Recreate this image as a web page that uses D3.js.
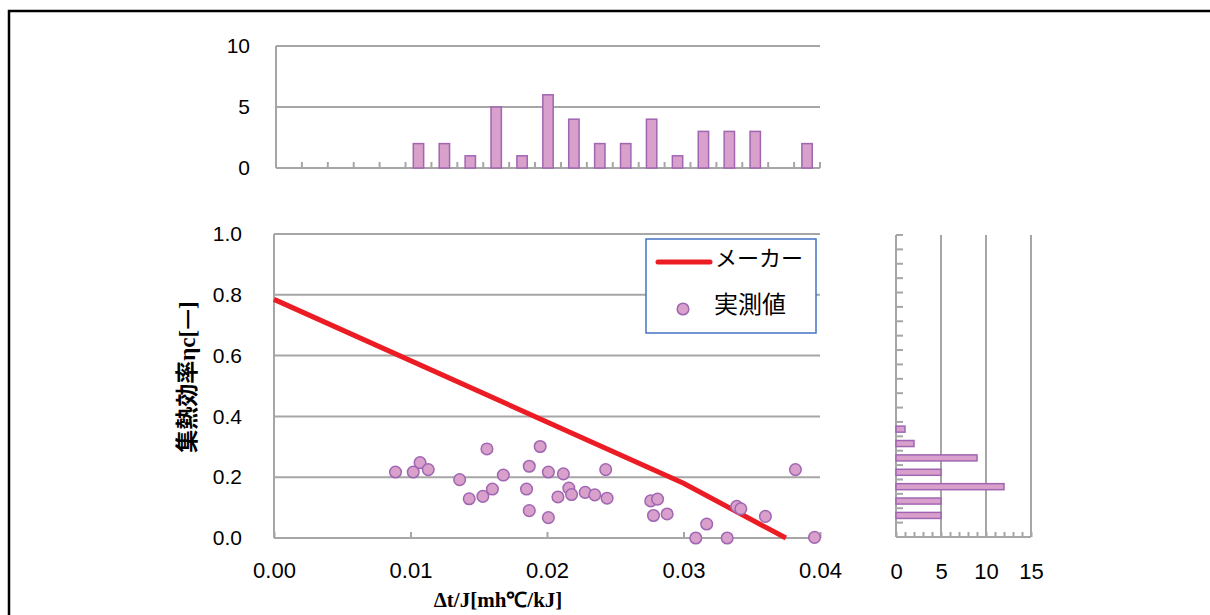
<!DOCTYPE html>
<html><head><meta charset="utf-8">
<script src="https://cdn.jsdelivr.net/npm/d3@7"></script>
<style>
html,body{margin:0;padding:0;background:#fff;overflow:hidden;}
svg{display:block;}
</style></head>
<body>
<svg id="chart" width="1210" height="615"></svg>
<script>
// ---------------- data ----------------
const measuredX = [0.0089,0.0102,0.0107,0.0113,0.0136,0.0143,0.0153,0.0156,0.0160,0.0168,
  0.0185,0.0187,0.0187,0.0195,0.0201,0.0201,0.0208,0.0212,0.0216,0.0218,
  0.0228,0.0235,0.0243,0.0244,0.0276,0.0281,0.0278,0.0288,0.0309,0.0317,
  0.0332,0.0339,0.0342,0.0360,0.0382,0.0396];
const measuredY = [0.217,0.217,0.248,0.225,0.192,0.129,0.137,0.293,0.161,0.207,
  0.161,0.236,0.090,0.301,0.217,0.067,0.135,0.211,0.164,0.143,
  0.150,0.142,0.225,0.131,0.122,0.128,0.074,0.079,0.000,0.046,
  0.000,0.104,0.096,0.071,0.225,0.002];
const makerX = [0, 0.030, 0.0375];
const makerY = [0.785, 0.18, 0];
// histogram of Δt/J (bins 0.000 .. 0.040 step 0.002)
const topBins = d3.range(21).map(i => (i * 0.002).toFixed(3));
const topCounts = [0,0,0,0,0,2,2,1,5,1,6,4,2,2,4,1,3,3,3,0,2];
// histogram of ηc (bins 0.00 .. 1.00 step 0.05, listed bottom to top)
const rightBins = d3.range(21).map(i => (i * 0.05).toFixed(2));
const rightCounts = [0,5,5,12,5,9,2,1,0,0,0,0,0,0,0,0,0,0,0,0,0];
const mainXTicks = [0, 0.01, 0.02, 0.03, 0.04];
const mainYTicks = [0, 0.2, 0.4, 0.6, 0.8, 1.0];
const topYTicks = [0, 5, 10];
const rightXTicks = [0, 5, 10, 15];
const legendLabels = ["メーカー", "実測値"];

// ---------------- styles ----------------
const GRID = "#A6A6A6", AXIS = "#A6A6A6";
const FILL = "#D8A0CB", STROKE = "#A066B2", RED = "#EC1C24";
const SANS = "'Liberation Sans', Arial, sans-serif";
const SERIF = "'Liberation Serif', 'Times New Roman', serif";
const CJK = "'Noto Sans CJK JP', sans-serif";

const svg = d3.select("#chart");
// outer frame
svg.append("rect").attr("x", 9).attr("y", 11).attr("width", 1400).attr("height", 800)
  .attr("fill", "none").attr("stroke", "#000").attr("stroke-width", 2.5);

// ---------------- main scatter ----------------
const x = d3.scaleLinear().domain([0, 0.04]).range([274, 820]);
const y = d3.scaleLinear().domain([0, 1]).range([538, 234]);

const g = svg.append("g");
g.selectAll("line.grid").data(mainYTicks.filter(d => d > 0)).join("line")
  .attr("x1", x(0)).attr("x2", x(0.04)).attr("y1", d => y(d)).attr("y2", d => y(d))
  .attr("stroke", GRID).attr("stroke-width", 2);

const xAxis = g.append("g").attr("transform", `translate(0,${y(0)})`)
  .call(d3.axisBottom(x).tickValues(mainXTicks).tickFormat(d3.format(".2f")).tickSize(-6).tickPadding(24));
xAxis.select(".domain").attr("stroke", AXIS).attr("stroke-width", 2).attr("d", `M${x(0)},0H${x(0.04)}`);
xAxis.selectAll(".tick line").attr("stroke", AXIS).attr("stroke-width", 2);
xAxis.selectAll("text").style("font-size", "22px").style("font-family", SANS);

const yAxis = g.append("g").attr("transform", `translate(${x(0)},0)`)
  .call(d3.axisLeft(y).tickValues(mainYTicks).tickFormat(d3.format(".1f")).tickSize(0).tickPadding(32));
yAxis.select(".domain").attr("stroke", AXIS).attr("stroke-width", 2).attr("d", `M0,${y(0)}V${y(1)}`);
yAxis.selectAll("text").style("font-size", "21px").style("font-family", SANS);

// maker line
const makerPts = makerX.map((d, i) => [d, makerY[i]]);
g.append("path").datum(makerPts)
  .attr("d", d3.line().x(d => x(d[0])).y(d => y(d[1])))
  .attr("fill", "none").attr("stroke", RED).attr("stroke-width", 5);

// measured points
const pts = measuredX.map((d, i) => [d, measuredY[i]]);
g.selectAll("circle.pt").data(pts).join("circle")
  .attr("cx", d => x(d[0])).attr("cy", d => y(d[1])).attr("r", 5.8)
  .attr("fill", FILL).attr("stroke", STROKE).attr("stroke-width", 1.5);

// axis titles
svg.append("text").attr("x", 498).attr("y", 607).attr("text-anchor", "middle")
  .style("font-family", SERIF).style("font-weight", "bold").style("font-size", "21px")
  .text("Δt/J[mh℃/kJ]");

const yt = svg.append("text").attr("transform", "translate(195,377) rotate(-90)")
  .attr("text-anchor", "middle").style("font-weight", "bold").style("font-size", "23px");
yt.append("tspan").style("font-family", CJK).text("集熱効率");
yt.append("tspan").style("font-family", SERIF).text("ηc[");
yt.append("tspan").style("font-family", CJK).text("—");
yt.append("tspan").style("font-family", SERIF).text("]");

// legend
const lg = svg.append("g");
lg.append("rect").attr("x", 646).attr("y", 239).attr("width", 170).attr("height", 94)
  .attr("fill", "#fff").attr("stroke", "#4472C4").attr("stroke-width", 1.5);
lg.append("line").attr("x1", 658).attr("x2", 710).attr("y1", 262).attr("y2", 262)
  .attr("stroke", RED).attr("stroke-width", 5).attr("stroke-linecap", "round");
lg.append("text").attr("x", 715).attr("y", 258).attr("dy", "0.35em")
  .style("font-family", CJK).style("font-size", "22px").text(legendLabels[0]);
lg.append("circle").attr("cx", 683).attr("cy", 309).attr("r", 5.8)
  .attr("fill", FILL).attr("stroke", STROKE).attr("stroke-width", 1.5);
lg.append("text").attr("x", 714).attr("y", 305).attr("dy", "0.35em")
  .style("font-family", CJK).style("font-size", "24px").text(legendLabels[1]);

// ---------------- top histogram ----------------
const xt = d3.scaleBand().domain(topBins).range([276, 820]).paddingInner(0.6).paddingOuter(0.3);
const yTop = d3.scaleLinear().domain([0, 10]).range([168, 46]);
const gt = svg.append("g");
gt.selectAll("line.grid").data(topYTicks.filter(d => d > 0)).join("line")
  .attr("x1", 276).attr("x2", 820).attr("y1", d => yTop(d)).attr("y2", d => yTop(d))
  .attr("stroke", GRID).attr("stroke-width", 2);
const bandStep = (820 - 276) / topBins.length;
gt.selectAll("line.tk").data(d3.range(1, topBins.length + 1)).join("line")
  .attr("x1", i => 276 + i * bandStep).attr("x2", i => 276 + i * bandStep)
  .attr("y1", yTop(0)).attr("y2", yTop(0) - 6).attr("stroke", AXIS).attr("stroke-width", 2);
gt.append("path").attr("d", `M276,${yTop(0)}H820M276,${yTop(0)}V${yTop(10)}`)
  .attr("stroke", AXIS).attr("stroke-width", 2).attr("fill", "none");
const topYAxis = gt.append("g").attr("transform", "translate(276,0)")
  .call(d3.axisLeft(yTop).tickValues(topYTicks).tickSize(0).tickPadding(26));
topYAxis.select(".domain").remove();
topYAxis.selectAll("text").style("font-size", "21px").style("font-family", SANS);
gt.selectAll("rect.bar").data(topCounts).join("rect")
  .attr("x", (d, i) => xt(topBins[i])).attr("width", xt.bandwidth())
  .attr("y", d => yTop(d)).attr("height", d => yTop(0) - yTop(d))
  .attr("fill", FILL).attr("stroke", STROKE).attr("stroke-width", 1.5)
  .attr("display", d => d > 0 ? null : "none");

// ---------------- right histogram ----------------
const yr = d3.scaleBand().domain(rightBins).range([537, 235]).paddingInner(0.58).paddingOuter(0.29);
const xr = d3.scaleLinear().domain([0, 15]).range([896, 1031]);
const gr = svg.append("g");
gr.selectAll("line.grid").data(rightXTicks.filter(d => d > 0)).join("line")
  .attr("x1", d => xr(d)).attr("x2", d => xr(d)).attr("y1", 235).attr("y2", 537)
  .attr("stroke", GRID).attr("stroke-width", 2);
const rStep = (537 - 235) / rightBins.length;
gr.selectAll("line.tk").data(d3.range(1, rightBins.length + 1)).join("line")
  .attr("x1", 896).attr("x2", 903).attr("y1", i => 537 - i * rStep).attr("y2", i => 537 - i * rStep)
  .attr("stroke", AXIS).attr("stroke-width", 2);
const rx = gr.append("g").attr("transform", "translate(0,537)")
  .call(d3.axisBottom(xr).ticks(15).tickFormat(d => rightXTicks.includes(d) ? d : "").tickSize(-5).tickPadding(26));
rx.select(".domain").attr("stroke", AXIS).attr("stroke-width", 2).attr("d", "M896,0H1031");
rx.selectAll(".tick line").attr("stroke", AXIS).attr("stroke-width", 2);
rx.selectAll("text").style("font-size", "22px").style("font-family", SANS);
gr.append("path").attr("d", "M896,537V235").attr("stroke", AXIS).attr("stroke-width", 2);
gr.selectAll("rect.bar").data(rightCounts).join("rect")
  .attr("y", (d, i) => yr(rightBins[i])).attr("height", yr.bandwidth())
  .attr("x", xr(0)).attr("width", d => xr(d) - xr(0))
  .attr("fill", FILL).attr("stroke", STROKE).attr("stroke-width", 1.5)
  .attr("display", d => d > 0 ? null : "none");
</script>
</body></html>
